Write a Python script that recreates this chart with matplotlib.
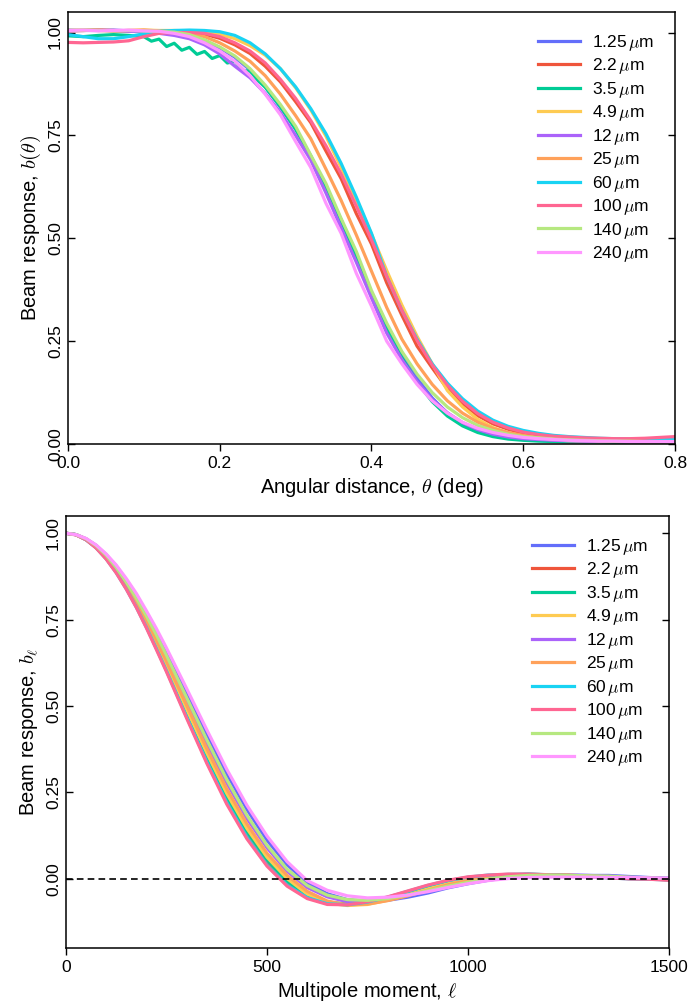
import matplotlib
matplotlib.use("Agg")
import matplotlib.pyplot as plt

plt.rcParams['font.family'] = ['Liberation Sans Narrow', 'Liberation Sans', 'DejaVu Sans']
plt.rcParams['mathtext.fontset'] = 'cm'

labels = ['1.25', '2.2', '3.5', '4.9', '12', '25', '60', '100', '140', '240']
colors = ['#636EFA', '#EF553B', '#00CC96', '#FECB52', '#AB63FA',
          '#FFA15A', '#19D3F3', '#FF6692', '#B6E880', '#FF97FF']

# --- top panel: beam profiles b(theta) ---
theta = [0.00, 0.02, 0.04, 0.06, 0.08, 0.10, 0.12, 0.14, 0.16, 0.18,
         0.20, 0.22, 0.24, 0.26, 0.28, 0.30, 0.32, 0.34, 0.36, 0.38,
         0.40, 0.42, 0.44, 0.46, 0.48, 0.50, 0.52, 0.54, 0.56, 0.58,
         0.60, 0.62, 0.64, 0.66, 0.68, 0.70, 0.72, 0.74, 0.76, 0.78, 0.80]
theta_35 = [0.00, 0.02, 0.04, 0.06, 0.08, 0.10, 0.11, 0.12, 0.13, 0.14,
            0.15, 0.16, 0.17, 0.18, 0.19, 0.20, 0.21, 0.22, 0.23, 0.24,
            0.25, 0.26, 0.28, 0.30, 0.32, 0.34, 0.36, 0.38, 0.40, 0.42,
            0.44, 0.46, 0.48, 0.50, 0.52, 0.54, 0.56, 0.58, 0.60, 0.62,
            0.64, 0.66, 0.68, 0.70, 0.72, 0.74, 0.76, 0.78, 0.80]

prof_125 = [1.006, 1.005, 1.005, 1.006, 1.004, 1.004, 1.002, 1.000, 0.993, 0.981,
            0.963, 0.940, 0.909, 0.868, 0.818, 0.766, 0.695, 0.625, 0.540, 0.458,
            0.362, 0.287, 0.215, 0.160, 0.112, 0.075, 0.050, 0.033, 0.022, 0.015,
            0.011, 0.009, 0.008, 0.007, 0.006, 0.006, 0.005, 0.005, 0.005, 0.005, 0.005]
prof_22 = [1.004, 1.005, 1.006, 1.005, 1.004, 1.005, 1.004, 1.003, 1.002, 0.996,
           0.986, 0.970, 0.949, 0.918, 0.880, 0.832, 0.781, 0.712, 0.645, 0.560,
           0.486, 0.392, 0.313, 0.238, 0.185, 0.134, 0.099, 0.069, 0.049, 0.036,
           0.026, 0.020, 0.016, 0.013, 0.011, 0.010, 0.009, 0.008, 0.008, 0.008, 0.008]
prof_35 = [0.992, 0.990, 0.993, 0.995, 0.993, 0.990, 0.979, 0.984, 0.966, 0.974,
           0.957, 0.964, 0.947, 0.954, 0.937, 0.944, 0.926, 0.930, 0.908, 0.906,
           0.884, 0.867, 0.820, 0.765, 0.700, 0.625, 0.545, 0.455, 0.365, 0.280,
           0.210, 0.150, 0.103, 0.068, 0.044, 0.028, 0.018, 0.012, 0.009, 0.007,
           0.006, 0.005, 0.005, 0.005, 0.004, 0.004, 0.004, 0.004, 0.004]
prof_49 = [1.005, 1.006, 1.005, 1.004, 1.005, 1.006, 1.005, 1.005, 1.004, 1.002,
           0.996, 0.985, 0.968, 0.945, 0.912, 0.866, 0.812, 0.748, 0.672, 0.594,
           0.510, 0.422, 0.338, 0.262, 0.195, 0.130, 0.090, 0.060, 0.040, 0.027,
           0.018, 0.013, 0.010, 0.008, 0.007, 0.006, 0.006, 0.005, 0.005, 0.005, 0.005]
prof_12 = [1.004, 1.005, 1.006, 1.004, 1.003, 1.002, 0.998, 0.993, 0.985, 0.970,
           0.948, 0.918, 0.890, 0.852, 0.805, 0.750, 0.690, 0.610, 0.525, 0.442,
           0.355, 0.270, 0.205, 0.152, 0.108, 0.076, 0.052, 0.035, 0.024, 0.017,
           0.013, 0.011, 0.009, 0.008, 0.007, 0.006, 0.006, 0.005, 0.005, 0.005, 0.005]
prof_25 = [1.005, 1.005, 1.006, 1.004, 1.005, 1.006, 1.004, 1.003, 0.998, 0.990,
           0.975, 0.955, 0.930, 0.895, 0.850, 0.798, 0.742, 0.668, 0.592, 0.508,
           0.420, 0.332, 0.255, 0.195, 0.145, 0.105, 0.075, 0.053, 0.038, 0.028,
           0.021, 0.016, 0.013, 0.011, 0.009, 0.008, 0.007, 0.007, 0.006, 0.006, 0.006]
prof_60 = [0.995, 0.990, 0.985, 0.985, 0.990, 0.997, 1.003, 1.005, 1.006, 1.005,
           1.002, 0.993, 0.975, 0.948, 0.912, 0.868, 0.815, 0.754, 0.682, 0.600,
           0.512, 0.408, 0.325, 0.255, 0.195, 0.148, 0.110, 0.080, 0.058, 0.043,
           0.033, 0.026, 0.021, 0.018, 0.016, 0.014, 0.013, 0.012, 0.011, 0.011, 0.011]
prof_100 = [0.976, 0.975, 0.976, 0.977, 0.980, 0.990, 0.998, 1.000, 1.000, 0.998,
            0.990, 0.975, 0.955, 0.926, 0.886, 0.840, 0.786, 0.725, 0.656, 0.578,
            0.496, 0.408, 0.325, 0.252, 0.192, 0.143, 0.104, 0.074, 0.053, 0.039,
            0.029, 0.023, 0.019, 0.017, 0.015, 0.014, 0.013, 0.013, 0.014, 0.016, 0.018]
prof_140 = [1.005, 1.006, 1.005, 1.004, 1.005, 1.004, 1.003, 1.001, 0.995, 0.982,
            0.965, 0.943, 0.912, 0.872, 0.825, 0.772, 0.702, 0.633, 0.548, 0.468,
            0.373, 0.294, 0.225, 0.170, 0.125, 0.090, 0.064, 0.045, 0.033, 0.024,
            0.018, 0.015, 0.012, 0.010, 0.009, 0.008, 0.007, 0.007, 0.006, 0.006, 0.006]
prof_240 = [1.005, 1.006, 1.004, 1.005, 1.006, 1.004, 1.003, 0.998, 0.990, 0.975,
            0.955, 0.930, 0.895, 0.850, 0.800, 0.735, 0.672, 0.585, 0.512, 0.415,
            0.335, 0.250, 0.195, 0.145, 0.105, 0.075, 0.053, 0.038, 0.028, 0.021,
            0.016, 0.013, 0.011, 0.009, 0.008, 0.007, 0.007, 0.006, 0.006, 0.006, 0.006]

profiles = [prof_125, prof_22, prof_35, prof_49, prof_12,
            prof_25, prof_60, prof_100, prof_140, prof_240]

# --- bottom panel: beam transfer functions b_ell ---
ell = [0, 25, 50, 75, 100, 125, 150, 175, 200, 225, 250, 300, 350, 400, 450, 500,
       550, 600, 650, 700, 750, 800, 850, 900, 950, 1000, 1050, 1100, 1150, 1200,
       1250, 1300, 1350, 1400, 1450, 1500]

bl_125 = [1.000, 0.996, 0.984, 0.965, 0.938, 0.905, 0.865, 0.820, 0.770, 0.716, 0.659,
          0.540, 0.420, 0.304, 0.201, 0.112, 0.041, -0.011, -0.043, -0.060, -0.065,
          -0.062, -0.053, -0.041, -0.026, -0.014, -0.004, 0.004, 0.009, 0.011, 0.011,
          0.010, 0.010, 0.007, 0.004, 0.002]
bl_22 = [1.000, 0.996, 0.981, 0.959, 0.927, 0.888, 0.842, 0.790, 0.732, 0.671, 0.608,
         0.476, 0.348, 0.230, 0.129, 0.048, -0.012, -0.050, -0.070, -0.074, -0.067,
         -0.054, -0.038, -0.022, -0.007, 0.002, 0.009, 0.012, 0.013, 0.012, 0.009,
         0.007, 0.004, 0.001, 0.000, -0.003]
bl_35 = [1.000, 0.996, 0.982, 0.959, 0.928, 0.890, 0.844, 0.793, 0.737, 0.677, 0.614,
         0.484, 0.356, 0.238, 0.138, 0.056, -0.006, -0.046, -0.067, -0.073, -0.068,
         -0.056, -0.041, -0.025, -0.010, 0.000, 0.008, 0.011, 0.013, 0.012, 0.010,
         0.007, 0.005, 0.002, 0.000, -0.002]
bl_49 = [1.000, 0.996, 0.982, 0.960, 0.930, 0.892, 0.847, 0.797, 0.741, 0.682, 0.620,
         0.491, 0.365, 0.247, 0.146, 0.063, 0.001, -0.044, -0.070, -0.077, -0.074,
         -0.062, -0.046, -0.029, -0.014, -0.002, 0.006, 0.010, 0.012, 0.012, 0.010,
         0.008, 0.005, 0.002, 0.001, -0.002]
bl_12 = [1.000, 0.996, 0.983, 0.963, 0.934, 0.899, 0.857, 0.810, 0.756, 0.700, 0.641,
         0.517, 0.394, 0.278, 0.175, 0.090, 0.022, -0.025, -0.052, -0.066, -0.067,
         -0.061, -0.048, -0.035, -0.021, -0.009, 0.000, 0.007, 0.011, 0.012, 0.011,
         0.010, 0.008, 0.005, 0.003, 0.001]
bl_25 = [1.000, 0.996, 0.983, 0.961, 0.932, 0.895, 0.851, 0.802, 0.748, 0.690, 0.629,
         0.503, 0.378, 0.260, 0.159, 0.074, 0.010, -0.036, -0.064, -0.075, -0.073,
         -0.063, -0.049, -0.033, -0.017, -0.005, 0.004, 0.009, 0.011, 0.012, 0.011,
         0.008, 0.006, 0.003, 0.001, -0.001]
bl_60 = [1.000, 0.996, 0.981, 0.958, 0.926, 0.886, 0.839, 0.786, 0.728, 0.666, 0.602,
         0.469, 0.340, 0.221, 0.121, 0.040, -0.018, -0.054, -0.072, -0.075, -0.067,
         -0.053, -0.036, -0.019, -0.005, 0.005, 0.011, 0.013, 0.014, 0.012, 0.009,
         0.006, 0.003, 0.000, -0.001, -0.003]
bl_100 = [1.000, 0.995, 0.981, 0.957, 0.925, 0.885, 0.838, 0.785, 0.726, 0.663, 0.599,
          0.465, 0.335, 0.216, 0.116, 0.037, -0.021, -0.057, -0.074, -0.075, -0.066,
          -0.052, -0.035, -0.018, -0.004, 0.006, 0.011, 0.014, 0.014, 0.012, 0.009,
          0.006, 0.003, 0.000, -0.001, -0.004]
bl_140 = [1.000, 0.996, 0.984, 0.964, 0.936, 0.901, 0.859, 0.813, 0.761, 0.706, 0.647,
          0.525, 0.403, 0.287, 0.184, 0.097, 0.028, -0.019, -0.047, -0.060, -0.062,
          -0.057, -0.047, -0.034, -0.021, -0.010, -0.001, 0.006, 0.010, 0.011, 0.010,
          0.009, 0.008, 0.005, 0.003, 0.001]
bl_240 = [1.000, 0.996, 0.985, 0.966, 0.940, 0.908, 0.869, 0.826, 0.776, 0.724, 0.668,
          0.551, 0.432, 0.317, 0.213, 0.124, 0.050, -0.005, -0.033, -0.049, -0.055,
          -0.053, -0.047, -0.037, -0.025, -0.014, -0.005, 0.001, 0.004, 0.005, 0.005,
          0.005, 0.004, 0.004, 0.003, 0.002]

bls = [bl_125, bl_22, bl_35, bl_49, bl_12, bl_25, bl_60, bl_100, bl_140, bl_240]

fig = plt.figure(figsize=(6.88, 10.05), dpi=100)
ax1 = fig.add_axes([0.0988, 0.5582, 0.8823, 0.4299])
ax2 = fig.add_axes([0.0959, 0.0567, 0.8765, 0.4299])

for lab, col, prof in zip(labels, colors, profiles):
    x = theta_35 if lab == '3.5' else theta
    ax1.plot(x, prof, color=col, lw=2.3, label=lab + r'$\,\mu$m')

for lab, col, bl in zip(labels, colors, bls):
    ax2.plot(ell, bl, color=col, lw=2.3, label=lab + r'$\,\mu$m')
ax2.axhline(0, color='black', ls='--', lw=1.2, dashes=(4, 2.5))

ax1.set_xlim(0, 0.8)
ax1.set_ylim(0, 1.05)
ax1.set_xticks([0.0, 0.2, 0.4, 0.6, 0.8])
ax1.set_yticks([0.0, 0.25, 0.5, 0.75, 1.0])
ax1.set_xlabel(r'Angular distance, $\theta$ (deg)', fontsize=14.5)
ax1.set_ylabel(r'Beam response, $b(\theta)$', fontsize=14.5)

ax2.set_xlim(0, 1500)
ax2.set_ylim(-0.2, 1.05)
ax2.set_xticks([0, 500, 1000, 1500])
ax2.set_yticks([0.0, 0.25, 0.5, 0.75, 1.0])
ax2.set_xlabel(r'Multipole moment, $\ell$', fontsize=14.5)
ax2.set_ylabel(r'Beam response, $b_\ell$', fontsize=14.5)

for ax in (ax1, ax2):
    ax.yaxis.set_major_formatter(matplotlib.ticker.FormatStrFormatter('%.2f'))
    ax.tick_params(axis='y', direction='in', left=True, right=True, length=5,
                   width=1, labelsize=12.5)
    for t in ax.get_yticklabels():
        t.set_rotation(90)
        t.set_va('center')
    ax.tick_params(axis='x', direction='out', length=5, width=1, labelsize=12.5)
    for s in ax.spines.values():
        s.set_linewidth(1.1)
    ax.legend(loc='upper right', frameon=False, fontsize=12.5, handlelength=2.4,
              labelspacing=0.2, handletextpad=0.7, borderaxespad=0.8)

ax1.xaxis.set_major_formatter(matplotlib.ticker.FormatStrFormatter('%.1f'))

fig.savefig('out.png', dpi=100)
